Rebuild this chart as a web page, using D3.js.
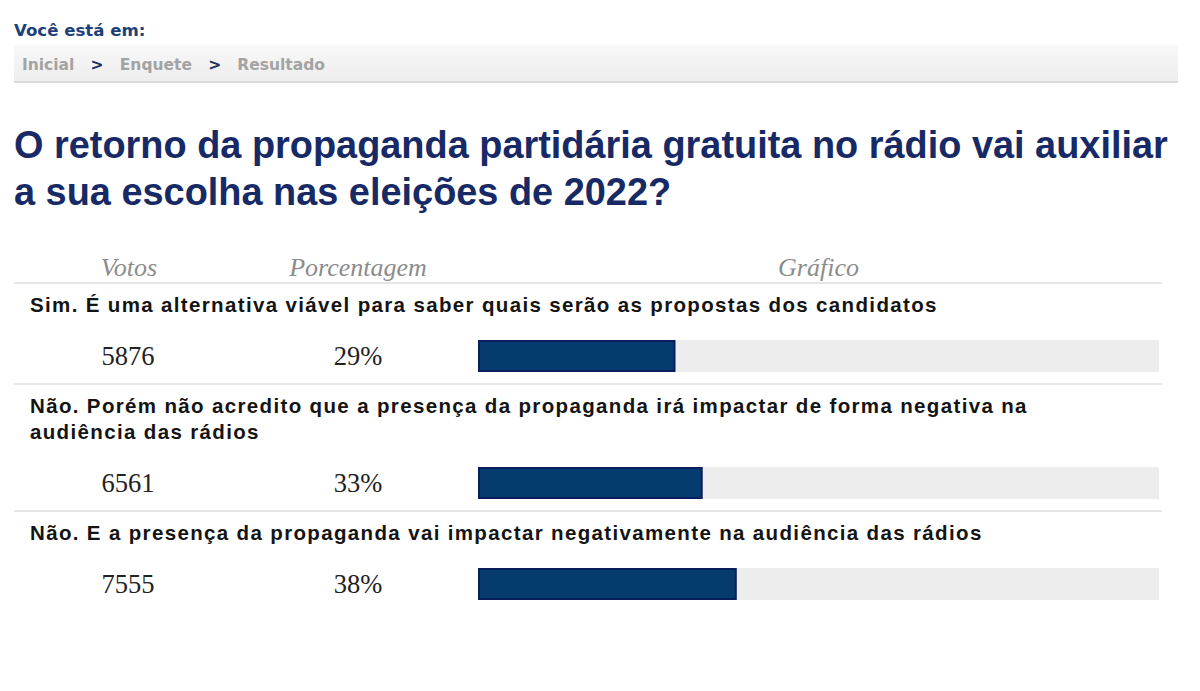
<!DOCTYPE html>
<html>
<head>
<meta charset="utf-8">
<script src="https://cdn.jsdelivr.net/npm/d3@7"></script>
<style>
  html, body { margin: 0; padding: 0; background: #ffffff; }
  svg { display: block; }
</style>
</head>
<body>
<script>
// ---- data ----
const breadcrumb = ["Inicial", "Enquete", "Resultado"];
const titleLines = [
  "O retorno da propaganda partidária gratuita no rádio vai auxiliar",
  "a sua escolha nas eleições de 2022?"
];
const columnHeaders = ["Votos", "Porcentagem", "Gráfico"];
const answers = [
  "Sim. É uma alternativa viável para saber quais serão as propostas dos candidatos",
  "Não. Porém não acredito que a presença da propaganda irá impactar de forma negativa na\naudiência das rádios",
  "Não. E a presença da propaganda vai impactar negativamente na audiência das rádios"
];
const votes = [5876, 6561, 7555];
const percents = [29, 33, 38];

// ---- layout ----
(function () {
const W = 1200, H = 691;
const svg = d3.select("body").append("svg").attr("width", W).attr("height", H);

const navy = "#172a66";
const sans = "'Liberation Sans', Arial, Helvetica, sans-serif";
const serif = "'Liberation Serif', 'Times New Roman', serif";
const verdana = "'DejaVu Sans', Verdana, sans-serif";

// "Você está em:"
svg.append("text").attr("x", 14).attr("y", 36)
  .attr("font-family", verdana).attr("font-weight", "bold").attr("font-size", 16.6)
  .attr("fill", "#1d3f7a").text("Você está em:");

// breadcrumb bar
const defs = svg.append("defs");
const grad = defs.append("linearGradient").attr("id", "bc").attr("x1", 0).attr("y1", 0).attr("x2", 0).attr("y2", 1);
grad.append("stop").attr("offset", "0%").attr("stop-color", "#f8f8f8");
grad.append("stop").attr("offset", "100%").attr("stop-color", "#ededed");
svg.append("rect").attr("x", 14).attr("y", 45).attr("width", 1164).attr("height", 37).attr("fill", "url(#bc)");
svg.append("rect").attr("x", 14).attr("y", 81).attr("width", 1164).attr("height", 2).attr("fill", "#dcdcdc");

const bc = svg.append("text").attr("x", 22).attr("y", 70)
  .attr("font-family", verdana).attr("font-weight", "bold").attr("font-size", 15.5);
breadcrumb.forEach((b, i) => {
  if (i > 0) bc.append("tspan").attr("fill", "#1d2f5e").text("\u00a0\u00a0\u00a0>\u00a0\u00a0\u00a0");
  bc.append("tspan").attr("fill", "#a3a3a3").text(b);
});

// title
svg.selectAll("text.title").data(titleLines).join("text").attr("class", "title")
  .attr("x", 14).attr("y", (d, i) => 158 + i * 47)
  .attr("font-family", sans).attr("font-weight", "bold").attr("font-size", 37.9)
  .attr("fill", navy).text(d => d);

// column header
const colX = { votes: 128, pct: 358 };
const track = { x0: 478, x1: 1159 };
const x = d3.scaleLinear().domain([0, 100]).range([track.x0, track.x1]);
const headerX = [129, 358, (track.x0 + track.x1) / 2];
svg.selectAll("text.hdr").data(columnHeaders).join("text").attr("class", "hdr")
  .attr("x", (d, i) => headerX[i]).attr("y", 276)
  .attr("text-anchor", "middle")
  .attr("font-family", serif).attr("font-style", "italic").attr("font-size", 26)
  .attr("fill", "#8c8c8c").text(d => d);

const lineX0 = 14, lineX1 = 1162;
const sep = (y) => svg.append("rect").attr("x", lineX0).attr("y", y - 1).attr("width", lineX1 - lineX0).attr("height", 2).attr("fill", "#e6e6e6");
sep(283);

// rows
let rowTop = 283;
const lineStep = 26, barH = 32;
answers.forEach((a, i) => {
  const lines = a.split("\n");
  const g = svg.append("g");
  const firstBase = rowTop + 29;
  const t = g.append("text").attr("font-family", sans).attr("font-weight", "bold")
    .attr("font-size", 20.5).attr("letter-spacing", 1.35).attr("fill", "#141414");
  lines.forEach((ln, j) => {
    t.append("tspan").attr("x", 30).attr("y", firstBase + j * lineStep).text(ln);
  });
  const lastBase = firstBase + (lines.length - 1) * lineStep;
  const barTop = lastBase + 28;
  const cy = barTop + barH / 2;
  g.append("rect").attr("x", x(0)).attr("y", barTop).attr("width", x(100) - x(0)).attr("height", barH).attr("fill", "#ededed");
  g.append("rect").attr("x", x(0) + 1).attr("y", barTop + 1)
    .attr("width", x(percents[i]) - x(0) - 2).attr("height", barH - 2)
    .attr("fill", "#053b6e").attr("stroke", "#0b1e5c").attr("stroke-width", 2);
  g.append("text").attr("x", colX.votes).attr("y", cy + 9).attr("text-anchor", "middle")
    .attr("font-family", serif).attr("font-size", 26.5).attr("fill", "#222").text(votes[i]);
  g.append("text").attr("x", colX.pct).attr("y", cy + 9).attr("text-anchor", "middle")
    .attr("font-family", serif).attr("font-size", 26.5).attr("fill", "#222").text(percents[i] + "%");
  rowTop = barTop + barH + 12;
  if (i < answers.length - 1) sep(rowTop);
});
})();
</script>
</body>
</html>
